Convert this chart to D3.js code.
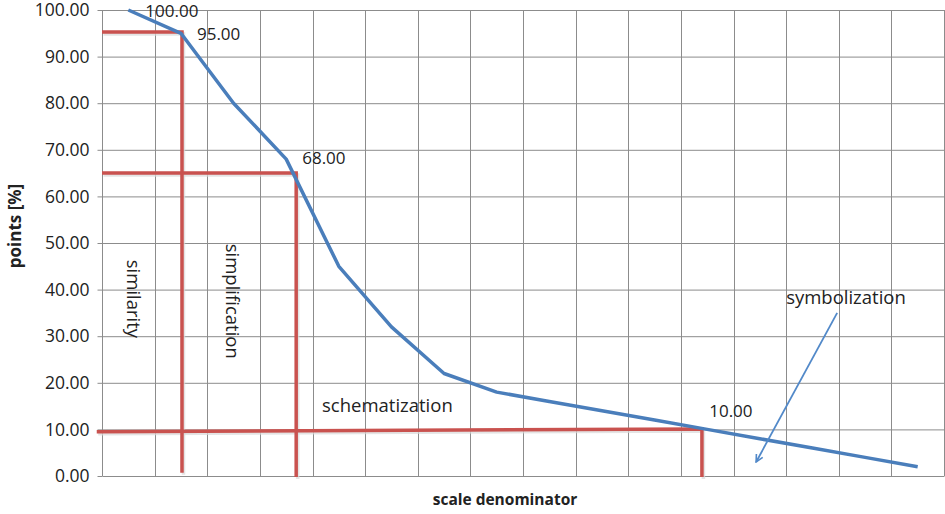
<!DOCTYPE html>
<html>
<head>
<meta charset="utf-8">
<script src="https://cdn.jsdelivr.net/npm/d3@7"></script>
<style>
  body { margin: 0; background: #fff; }
  text { font-family: "Open Sans", "Noto Sans", sans-serif; fill: #222; }
</style>
</head>
<body>
<svg id="chart" width="945" height="514"></svg>
<script>
// points kept per scale step (16 steps, no x labels in the original)
var steps = d3.range(16);
var points = [100, 95, 80, 68, 45, 32, 22, 18, 16, 14, 12, 10, 8, 6, 4, 2];
var yTicks = [0, 10, 20, 30, 40, 50, 60, 70, 80, 90, 100];

// labelled points: index into points, plus label offset
var labelled = [
    {i: 0, dx: 17, dy: 7},
    {i: 1, dx: 16, dy: 7},
    {i: 3, dx: 16, dy: 5},
    {i: 11, dx: 2, dy: -12}
];

// hand drawn red boundaries (x in step units, y in %)
var bounds = [
    [[0, 95.3], [1.52, 95.3], [1.52, 0.7]],
    [[0, 65.0], [3.69, 65.0], [3.69, -0.2]],
    [[-0.1, 9.5], [11.4, 10.1], [11.4, -0.2]]
];

// phase names
var phases = [
    {name: 'similarity', x: 0.59, y: 38, rot: 90},
    {name: 'simplification', x: 2.48, y: 37.5, rot: 90},
    {name: 'schematization', x: 4.18, y: 15.2, rot: 0},
    {name: 'symbolization', x: 13.0, y: 38.3, rot: 0}
];
var arrow = [[13.97, 35], [12.43, 3.0]];

var svg = d3.select('#chart');
var pLeft = 102, pRight = 944, pTop = 10, pBottom = 476;

var x = d3.scaleLinear().domain([0, 16]).range([pLeft, pRight]);
var y = d3.scaleLinear().domain([0, 100]).range([pBottom, pTop]);

svg.append('defs').append('marker')
    .attr('id', 'head')
    .attr('viewBox', '0 0 10 10')
    .attr('refX', 9).attr('refY', 5)
    .attr('markerWidth', 9).attr('markerHeight', 9)
    .attr('markerUnits', 'userSpaceOnUse')
    .attr('orient', 'auto')
    .append('path')
    .attr('d', 'M1,1 L9,5 L1,9')
    .attr('fill', 'none')
    .attr('stroke', '#5289c9')
    .attr('stroke-width', 1.8);

// grid
svg.append('g').selectAll('line.v')
    .data(d3.range(17))
    .enter().append('line')
    .attr('x1', function(d) { return Math.round(x(d)) + 0.5; })
    .attr('x2', function(d) { return Math.round(x(d)) + 0.5; })
    .attr('y1', pTop).attr('y2', pBottom)
    .attr('stroke', '#8c8c8c').attr('stroke-width', 1);

var yAxis = svg.append('g')
    .attr('transform', 'translate(' + (pLeft + 0.5) + ',0)')
    .call(d3.axisLeft(y).tickValues(yTicks).tickSize(5).tickPadding(8)
        .tickFormat(d3.format('.2f')));
yAxis.select('.domain').remove();
yAxis.selectAll('.tick line').attr('stroke', '#8c8c8c');
yAxis.selectAll('.tick text')
    .style('font-size', '17.5px')
    .attr('font-family', null)
    .attr('fill', '#222');
yAxis.selectAll('.tick')
    .append('line')
    .attr('x1', 0).attr('x2', pRight - pLeft)
    .attr('stroke', '#8c8c8c');

// red boundaries, with soft shadow
var redLine = d3.line()
    .x(function(d) { return x(d[0]); })
    .y(function(d) { return y(d[1]); });
svg.append('g').selectAll('path.shadow')
    .data(bounds)
    .enter().append('path')
    .attr('d', redLine)
    .attr('transform', 'translate(1.5,2)')
    .attr('fill', 'none')
    .attr('stroke', '#d9d9d9')
    .attr('stroke-width', 3.5)
    .attr('opacity', 0.7);
svg.append('g').selectAll('path.red')
    .data(bounds)
    .enter().append('path')
    .attr('d', redLine)
    .attr('fill', 'none')
    .attr('stroke', '#c9524f')
    .attr('stroke-width', 3.5);

// data line
var line = d3.line()
    .x(function(d, i) { return x(steps[i] + 0.5); })
    .y(function(d) { return y(d); });
svg.append('path')
    .datum(points)
    .attr('d', line)
    .attr('fill', 'none')
    .attr('stroke', '#4a7ebb')
    .attr('stroke-width', 3.5)
    .attr('stroke-linejoin', 'round');

svg.append('g').selectAll('text.lbl')
    .data(labelled)
    .enter().append('text')
    .attr('x', function(d) { return x(steps[d.i] + 0.5) + d.dx; })
    .attr('y', function(d) { return y(points[d.i]) + d.dy; })
    .style('font-size', '17px')
    .text(function(d) { return d3.format('.2f')(points[d.i]); });

// phase names
svg.append('g').selectAll('text.phase')
    .data(phases)
    .enter().append('text')
    .attr('transform', function(d) {
        return 'translate(' + x(d.x) + ',' + y(d.y) + ') rotate(' + d.rot + ')';
    })
    .attr('text-anchor', function(d) { return d.rot ? 'middle' : 'start'; })
    .attr('dy', '0.35em')
    .style('font-size', '18.5px')
    .text(function(d) { return d.name; });

svg.append('path')
    .datum(arrow)
    .attr('d', redLine)
    .attr('fill', 'none')
    .attr('stroke', '#5289c9')
    .attr('stroke-width', 1.8)
    .attr('marker-end', 'url(#head)');

// axis titles
svg.append('text')
    .attr('x', 505)
    .attr('y', 505)
    .attr('text-anchor', 'middle')
    .style('font-size', '15.5px')
    .style('font-weight', 'bold')
    .text('scale denominator');

svg.append('text')
    .attr('transform', 'translate(21,226) rotate(-90)')
    .attr('text-anchor', 'middle')
    .style('font-size', '17px')
    .style('font-weight', 'bold')
    .text('points [%]');
</script>
</body>
</html>
